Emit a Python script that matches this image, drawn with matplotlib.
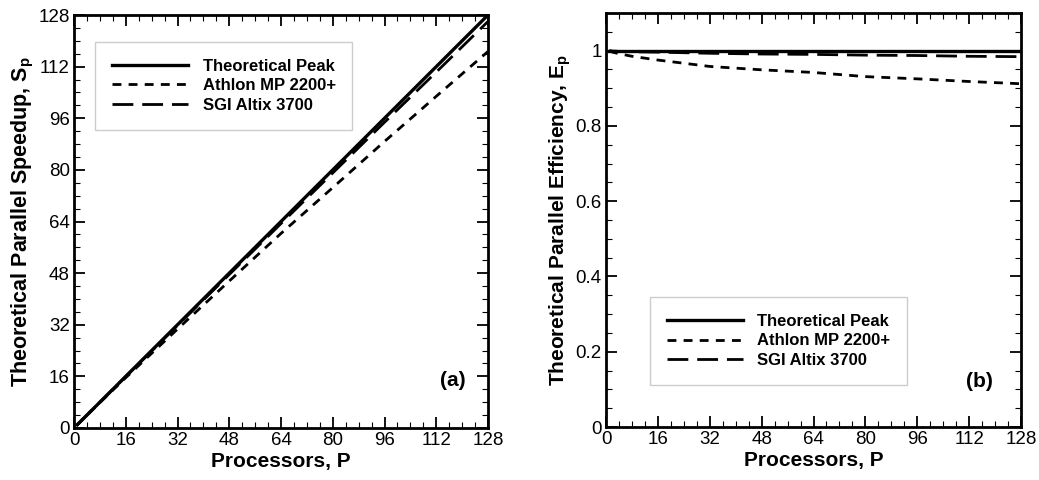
import matplotlib
matplotlib.use("Agg")
import matplotlib.pyplot as plt
from matplotlib.ticker import MultipleLocator

plt.rcParams['font.family'] = ['Liberation Sans', 'DejaVu Sans']
plt.rcParams['mathtext.fontset'] = 'custom'
plt.rcParams['mathtext.rm'] = 'Liberation Sans'
plt.rcParams['mathtext.bf'] = 'Liberation Sans:bold'

processors = [1, 2, 4, 8, 16, 32, 48, 64, 80, 96, 112, 128]
peak_speedup = [1, 2, 4, 8, 16, 32, 48, 64, 80, 96, 112, 128]
athlon_speedup = [1, 1.99, 3.97, 7.88, 15.6, 30.66, 45.55, 60.3, 74.5, 88.8, 102.8, 116.7]
sgi_speedup = [1, 2.0, 3.99, 7.98, 15.94, 31.78, 47.57, 63.36, 79.04, 94.75, 110.3, 126.0]

peak_eff = [1, 1, 1, 1, 1, 1, 1, 1, 1, 1, 1, 1]
athlon_eff = [1, 0.996, 0.992, 0.985, 0.975, 0.958, 0.949, 0.942, 0.931, 0.925, 0.918, 0.912]
sgi_eff = [1, 0.999, 0.998, 0.997, 0.996, 0.993, 0.991, 0.990, 0.988, 0.987, 0.985, 0.984]

labels = ['Theoretical Peak', 'Athlon MP 2200+', 'SGI Altix 3700']

fig = plt.figure(figsize=(10.39, 4.80), dpi=100)
W, H = 1039, 480
ax1 = fig.add_axes([74 / W, 1 - 428 / H, (488 - 74) / W, (428 - 15) / H])
ax2 = fig.add_axes([606 / W, 1 - 427 / H, (1021 - 606) / W, (427 - 13) / H])

styles = [dict(ls='-', lw=2.4),
          dict(ls=(0, (3.2, 2.6)), lw=2.0),
          dict(ls=(0, (7.5, 3.2)), lw=2.0)]

def setup(ax):
    ax.tick_params(which='both', direction='in', top=True, right=True, labelsize=13.5, pad=3)
    ax.tick_params(which='major', length=8, width=1.3)
    ax.tick_params(which='minor', length=4, width=0.8)
    for s in ax.spines.values():
        s.set_linewidth(2.0)
    ax.xaxis.set_major_locator(MultipleLocator(16))
    ax.xaxis.set_minor_locator(MultipleLocator(4))
    ax.set_xlim(0, 128)
    ax.set_xlabel('Processors, P', fontsize=15, fontweight='bold', labelpad=2)

def add_legend(ax, anchor):
    leg = ax.legend(loc='upper left', bbox_to_anchor=anchor, borderaxespad=0,
                    prop={'weight': 'bold', 'size': 12}, handlelength=4.6, handletextpad=0.85,
                    borderpad=1.0, labelspacing=0.28, fancybox=False, framealpha=1,
                    edgecolor='#cccccc')
    leg.get_frame().set_linewidth(1.0)
    return leg

for ys, st, lab in zip([peak_speedup, athlon_speedup, sgi_speedup], styles, labels):
    ax1.plot(processors, ys, color='black', label=lab, **st)
setup(ax1)
ax1.set_ylim(0, 128)
ax1.yaxis.set_major_locator(MultipleLocator(16))
ax1.yaxis.set_minor_locator(MultipleLocator(4))
ax1.set_ylabel(r'Theoretical Parallel Speedup, S$_\mathbf{p}$', fontsize=15.5, fontweight='bold', labelpad=2)
ax1.text(0.915, 0.115, '(a)', transform=ax1.transAxes, fontsize=15, fontweight='bold', ha='center', va='center')
add_legend(ax1, (0.051, 0.935))

for ys, st, lab in zip([peak_eff, athlon_eff, sgi_eff], styles, labels):
    ax2.plot(processors, ys, color='black', label=lab, **st)
setup(ax2)
ax2.set_ylim(0, 1.1)
ax2.yaxis.set_minor_locator(MultipleLocator(0.05))
ax2.set_yticks([0, 0.2, 0.4, 0.6, 0.8, 1.0])
ax2.set_yticklabels(['0', '0.2', '0.4', '0.6', '0.8', '1'])
ax2.set_ylabel(r'Theoretical Parallel Efficiency, E$_\mathbf{p}$', fontsize=15, fontweight='bold', labelpad=2)
ax2.text(0.9, 0.11, '(b)', transform=ax2.transAxes, fontsize=15, fontweight='bold', ha='center', va='center')
add_legend(ax2, (0.106, 0.314))

fig.savefig('out.png', dpi=100)
